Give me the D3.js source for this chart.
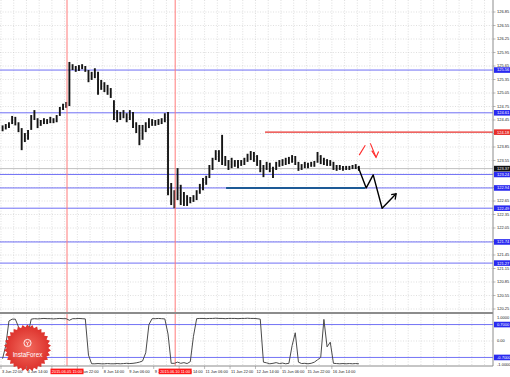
<!DOCTYPE html>
<html>
<head>
<meta charset="utf-8">
<script src="https://cdn.jsdelivr.net/npm/d3@7"></script>
<style>
    html, body { margin: 0; padding: 0; background: #fff; }
    svg { display: block; font-family: "Liberation Sans", Arial, sans-serif; }
</style>
</head>
<body>
<svg width="510" height="377"></svg>
<script>
// H1 chart read in 2-hour slots, slot k is centred on hour 2k+1 after 3 Jun 22:00
var barHigh = [
    124.33, 124.36, 124.40, 124.54, 124.52, 124.40, 124.27, 124.16, 124.23, 124.56,
    124.67, 124.49, 124.45, 124.49, 124.47, 124.52, 124.49, 124.56, 124.74, 124.81,
    124.85, 125.74, 125.69, 125.65, 125.67, 125.69, 125.65, 125.56, 125.52, 125.60,
    125.52, 125.34, 125.29, 125.23, 125.16, 124.89, 124.67, 124.63, 124.67, 124.60,
    124.67, 124.63, 124.40, 124.34, 124.34, 124.40, 124.49, 124.47, 124.45, 124.47,
    124.49, 124.60, 124.63, 123.05, 122.89, 123.38, 123.01, 122.85, 122.78, 122.74,
    122.78, 122.89, 123.03, 123.16, 123.21, 123.45, 123.61, 123.78, 123.78, 124.12,
    123.65, 123.56, 123.61, 123.56, 123.56, 123.56, 123.61, 123.70, 123.76, 123.74,
    123.67, 123.56, 123.45, 123.52, 123.50, 123.41, 123.52, 123.56, 123.58, 123.61,
    123.63, 123.67, 123.65, 123.52, 123.47, 123.52, 123.50, 123.52, 123.54, 123.74,
    123.67, 123.61, 123.58, 123.56, 123.52, 123.45, 123.45, 123.43, 123.43, 123.43,
    123.45, 123.47, 123.43
];
var barLow = [
    124.20, 124.24, 124.27, 124.36, 124.33, 124.18, 123.78, 123.96, 124.01, 124.23,
    124.45, 124.27, 124.32, 124.36, 124.36, 124.38, 124.38, 124.40, 124.54, 124.67,
    124.72, 124.76, 125.56, 125.52, 125.54, 125.58, 125.52, 125.29, 125.34, 125.38,
    125.01, 125.12, 125.07, 125.01, 124.94, 124.45, 124.40, 124.45, 124.49, 124.40,
    124.45, 124.27, 124.16, 123.89, 124.01, 124.18, 124.27, 124.32, 124.32, 124.34,
    124.36, 124.40, 122.78, 122.56, 122.49, 122.67, 122.56, 122.54, 122.54, 122.60,
    122.63, 122.67, 122.81, 122.89, 123.01, 123.16, 123.34, 123.56, 123.52, 123.45,
    123.43, 123.34, 123.38, 123.41, 123.38, 123.43, 123.45, 123.52, 123.56, 123.52,
    123.43, 123.29, 123.18, 123.34, 123.29, 123.16, 123.34, 123.41, 123.43, 123.45,
    123.47, 123.50, 123.45, 123.32, 123.34, 123.38, 123.38, 123.41, 123.41, 123.50,
    123.47, 123.45, 123.43, 123.43, 123.34, 123.32, 123.34, 123.32, 123.34, 123.34,
    123.36, 123.36, 123.32
];
// oscillator in the lower window, same slots
var oscValues = [
    -0.75, -0.2, 0.85, 0.93, 0.93, 0.6, -0.85, -0.95, 0.3, 0.93,
    0.95, 0.94, 0.95, 0.96, 0.95, 0.95, 0.94, 0.95, 0.96, 0.95,
    0.95, 0.88, 0.95, 0.95, 0.96, 0.95, 0.94, -0.6, -0.97, -0.97,
    -0.96, -0.97, -0.97, -0.96, -0.97, -0.97, -0.96, -0.97, -0.96, -0.95,
    -0.96, -0.95, -0.93, -0.9, -0.85, -0.5, 0.7, 0.95, 0.95, 0.96,
    0.95, 0.94, 0.3, -0.95, -0.95, -0.9, -0.95, -0.92, -0.96, -0.88,
    0.2, 0.95, 0.96, 0.96, 0.95, 0.96, 0.96, 0.97, 0.96, 0.96,
    0.95, 0.96, 0.96, 0.96, 0.95, 0.96, 0.96, 0.97, 0.96, 0.96,
    0.95, 0.93, -0.9, -0.93, -0.97, -0.95, -0.92, -0.96, -0.94, -0.97,
    -0.95, -0.2, 0.35, -0.9, -0.96, -0.95, -0.97, -0.95, -0.9, -0.8,
    -0.7, 0.92, -0.25, -0.05, -0.95, -0.96, -0.97, -0.96, -0.97, -0.96,
    -0.97, -0.96, -0.97
];

var timeLabels = ["3 Jun 22:00", "4 Jun 14:00", "5 Jun 06:00", "5 Jun 22:00", "8 Jun 14:00",
    "9 Jun 06:00", "9 Jun 22:00", "10 Jun 14:00", "11 Jun 06:00", "11 Jun 22:00",
    "12 Jun 14:00", "15 Jun 06:00", "15 Jun 22:00", "16 Jun 14:00"];
var priceTicks = [120.25, 120.55, 120.85, 121.15, 121.45, 121.75, 122.05, 122.35, 122.65,
    122.95, 123.25, 123.55, 123.85, 124.15, 124.45, 124.75, 125.05, 125.35, 125.65,
    125.95, 126.25, 126.55, 126.85];
var oscTicks = [1, 0, -1];
var oscTickLabels = ["1.0000", "0.00", "-1.0000"];
var oscLevels = [0.7, -0.7];
var oscLevelLabels = ["0.7000", "-0.7000"];

var levels = [125.56, 124.61, 123.24, 122.94, 122.49, 121.74, 121.27]; // blue lines
var resistance = 124.18;          // red line
var resistanceFrom = 166;         // hour where red line starts
var supportSeg = [141.5, 229, 122.94]; // dark blue segment: from hour, to hour, price
var lastPrice = 123.37;

var eventHours = [41.5, 109.5];
var eventLabels = ["2015.06.05 15:00", "2015.06.10 11:00"];

// hand drawn forecast (hour, price)
var forecast = [[224.5, 123.41], [229.6, 122.94], [234, 123.23], [239.6, 122.49], [248.4, 122.81]];
var forecastHead = [[245.3, 122.79], [248.4, 122.81], [247.8, 122.68]];
var redUp = [[225.2, 123.67], [229, 123.89]];
var redDown = [[232.2, 123.93], [235.8, 123.62]];
var redDownHead = [[233.1, 123.77], [235.8, 123.62], [237.4, 123.75]];

window.onload = main;

function main() {
    var svg = d3.select("svg");
    var plotRight = 493,
        mainBottom = 312,
        oscTop = 314,
        oscBottom = 366;

    var x = d3.scaleLinear().domain([0, 309]).range([1, 492.5]);
    var y = d3.scaleLinear().domain([120.25, 126.85]).range([309, 12]);
    var yOsc = d3.scaleLinear().domain([-1, 1]).range([364.5, 317.5]);
    var fmt = d3.format(".2f");

    svg.append("rect").attr("width", 510).attr("height", 377).attr("fill", "#fff");

    var defs = svg.append("defs");
    defs.append("clipPath").attr("id", "clipMain")
        .append("rect").attr("x", 0).attr("y", 0).attr("width", plotRight).attr("height", mainBottom);
    defs.append("clipPath").attr("id", "clipOsc")
        .append("rect").attr("x", 0).attr("y", oscTop).attr("width", plotRight).attr("height", oscBottom - oscTop);
    var grad = defs.append("radialGradient").attr("id", "badgeFill");
    grad.append("stop").attr("offset", "0%").attr("stop-color", "#f26b5e");
    grad.append("stop").attr("offset", "100%").attr("stop-color", "#dc2f2a");

    // grid
    var gridHours = d3.range(0, 309, 8);
    var grid = svg.append("g")
        .attr("stroke", "#c9c9c9")
        .attr("stroke-width", 0.6)
        .attr("stroke-dasharray", "1,1.6");
    grid.selectAll("line.v")
        .data(gridHours)
        .enter()
        .append("line")
        .attr("x1", d => x(d)).attr("x2", d => x(d))
        .attr("y1", 0).attr("y2", oscBottom);
    grid.selectAll("line.h")
        .data(priceTicks)
        .enter()
        .append("line")
        .attr("x1", 0).attr("x2", plotRight)
        .attr("y1", d => y(d)).attr("y2", d => y(d));
    grid.append("line")
        .attr("x1", 0).attr("x2", plotRight)
        .attr("y1", yOsc(0)).attr("y2", yOsc(0));

    var main = svg.append("g").attr("clip-path", "url(#clipMain)");

    // bid line
    main.append("line")
        .attr("x1", 0).attr("x2", plotRight)
        .attr("y1", y(lastPrice)).attr("y2", y(lastPrice))
        .attr("stroke", "#c0c0c0").attr("stroke-width", 1);

    // blue levels
    main.selectAll("line.level")
        .data(levels)
        .enter()
        .append("line")
        .attr("class", "level")
        .attr("x1", 0).attr("x2", plotRight)
        .attr("y1", d => y(d)).attr("y2", d => y(d))
        .attr("stroke", "#6f6ff5").attr("stroke-width", 1);

    main.append("line")
        .attr("x1", x(resistanceFrom)).attr("x2", plotRight)
        .attr("y1", y(resistance)).attr("y2", y(resistance))
        .attr("stroke", "#e8302c").attr("stroke-width", 1.4);

    main.append("line")
        .attr("x1", x(supportSeg[0])).attr("x2", x(supportSeg[1]))
        .attr("y1", y(supportSeg[2])).attr("y2", y(supportSeg[2]))
        .attr("stroke", "#1d5a96").attr("stroke-width", 2);

    // event lines (both windows)
    svg.selectAll("line.event")
        .data(eventHours)
        .enter()
        .append("line")
        .attr("class", "event")
        .attr("x1", d => x(d)).attr("x2", d => x(d))
        .attr("y1", 0).attr("y2", oscBottom)
        .attr("stroke", "#ff7a7a").attr("stroke-width", 1);

    // price bars
    main.selectAll("line.bar")
        .data(barHigh)
        .enter()
        .append("line")
        .attr("class", "bar")
        .attr("x1", (d, i) => x(2 * i + 1)).attr("x2", (d, i) => x(2 * i + 1))
        .attr("y1", d => y(d)).attr("y2", (d, i) => y(barLow[i]))
        .attr("stroke", "#151515").attr("stroke-width", 1.9);

    // forecast drawing
    var line = d3.line().x(d => x(d[0])).y(d => y(d[1]));
    main.append("path").datum(forecast).attr("d", line)
        .attr("fill", "none").attr("stroke", "#000").attr("stroke-width", 1.4)
        .attr("stroke-linejoin", "round");
    main.append("path").datum(forecastHead).attr("d", line)
        .attr("fill", "none").attr("stroke", "#000").attr("stroke-width", 1.3);
    [redUp, redDown, redDownHead].forEach(function (seg) {
        main.append("path").datum(seg).attr("d", line)
            .attr("fill", "none").attr("stroke", "#ff2a2a").attr("stroke-width", 1.1);
    });

    // separators and frame
    svg.append("line")
        .attr("x1", 0).attr("x2", plotRight)
        .attr("y1", mainBottom + 1).attr("y2", mainBottom + 1)
        .attr("stroke", "#8c8c8c").attr("stroke-width", 2);
    svg.append("line")
        .attr("x1", 0).attr("x2", plotRight)
        .attr("y1", oscBottom).attr("y2", oscBottom)
        .attr("stroke", "#8c8c8c").attr("stroke-width", 1);
    svg.append("line")
        .attr("x1", plotRight).attr("x2", plotRight)
        .attr("y1", 0).attr("y2", oscBottom)
        .attr("stroke", "#8c8c8c").attr("stroke-width", 1);

    // oscillator window
    var osc = svg.append("g").attr("clip-path", "url(#clipOsc)");
    osc.selectAll("line.olevel")
        .data(oscLevels)
        .enter()
        .append("line")
        .attr("x1", 0).attr("x2", plotRight)
        .attr("y1", d => yOsc(d)).attr("y2", d => yOsc(d))
        .attr("stroke", "#7373f5").attr("stroke-width", 1);

    // InstaForex badge
    var badge = svg.append("g").attr("transform", "translate(27.5,348)");
    var star = d3.lineRadial()
        .angle(d => d[0]).radius(d => d[1])
        .curve(d3.curveLinearClosed);
    badge.append("path")
        .attr("d", star(d3.range(60).map(i => [i * Math.PI / 30, i % 2 ? 20.8 : 23.6])))
        .attr("fill", "url(#badgeFill)");
    badge.append("circle").attr("cy", -5).attr("r", 3.6)
        .attr("fill", "none").attr("stroke", "#fff").attr("stroke-width", 0.9);
    badge.append("path").attr("d", "M-1.6,-6.5 L0,-4.6 L1.6,-6.5 M0,-4.6 L0,-2.6")
        .attr("fill", "none").attr("stroke", "#fff").attr("stroke-width", 0.8);
    badge.append("text")
        .attr("y", 8.5)
        .attr("text-anchor", "middle")
        .attr("fill", "#fff")
        .attr("font-size", 6.3)
        .text("InstaForex");

    osc.append("path")
        .datum(oscValues)
        .attr("d", d3.line().x((d, i) => x(2 * i + 1)).y(d => yOsc(d)))
        .attr("fill", "none").attr("stroke", "#4a4a4a").attr("stroke-width", 1);

    // right price scale
    var axis = svg.append("g").attr("font-size", 4).attr("fill", "#222");
    axis.selectAll("text.pt")
        .data(priceTicks)
        .enter()
        .append("text")
        .attr("x", 497).attr("y", d => y(d) + 1.4)
        .text(d => fmt(d));
    axis.selectAll("line.pt")
        .data(priceTicks)
        .enter()
        .append("line")
        .attr("x1", plotRight).attr("x2", plotRight + 2.5)
        .attr("y1", d => y(d)).attr("y2", d => y(d))
        .attr("stroke", "#8c8c8c").attr("stroke-width", 0.6);
    axis.selectAll("text.ot")
        .data(oscTicks)
        .enter()
        .append("text")
        .attr("x", 497).attr("y", d => yOsc(d) + 1.4)
        .text((d, i) => oscTickLabels[i]);

    function tag(v, ypos, label, color) {
        axis.append("rect")
            .attr("x", plotRight + 1).attr("y", ypos - 2.8)
            .attr("width", 16).attr("height", 5.6)
            .attr("fill", color);
        axis.append("text")
            .attr("x", 497).attr("y", ypos + 1.4)
            .attr("fill", "#fff")
            .text(label);
    }
    levels.forEach(v => tag(v, y(v), fmt(v), "#2a2af0"));
    tag(resistance, y(resistance), fmt(resistance), "#e8302c");
    tag(lastPrice, y(lastPrice), fmt(lastPrice), "#111");
    oscLevels.forEach((v, i) => tag(v, yOsc(v), oscLevelLabels[i], "#2a2af0"));

    // time scale
    var tickHours = timeLabels.map((d, i) => i * 16);
    var time = svg.append("g").attr("font-size", 3.9).attr("fill", "#222");
    time.selectAll("line")
        .data(tickHours)
        .enter()
        .append("line")
        .attr("x1", d => x(d)).attr("x2", d => x(d))
        .attr("y1", oscBottom).attr("y2", oscBottom + 3)
        .attr("stroke", "#8c8c8c").attr("stroke-width", 0.6);
    time.selectAll("text")
        .data(timeLabels)
        .enter()
        .append("text")
        .attr("x", (d, i) => x(tickHours[i]) + 1)
        .attr("y", 373.2)
        .text(d => d);

    eventHours.forEach(function (h, i) {
        time.append("rect")
            .attr("x", x(h) - 16.5).attr("y", 368.6)
            .attr("width", 33).attr("height", 5.6)
            .attr("fill", "#ff1a1a");
        time.append("text")
            .attr("x", x(h)).attr("y", 373.0)
            .attr("text-anchor", "middle")
            .attr("fill", "#fff")
            .text(eventLabels[i]);
    });
}
</script>
</body>
</html>
